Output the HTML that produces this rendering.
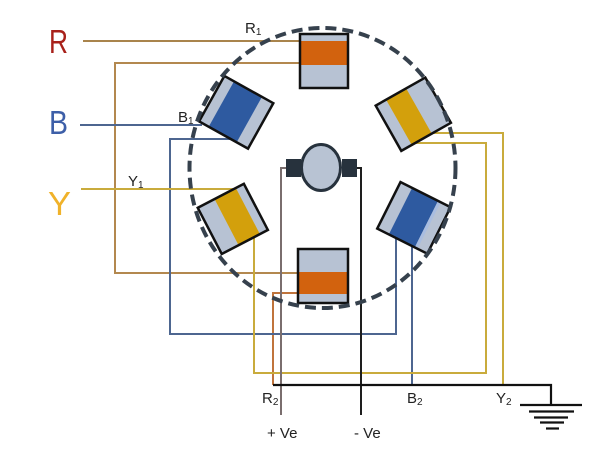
<!DOCTYPE html>
<html>
<head>
<meta charset="utf-8">
<style>
  html, body { margin: 0; padding: 0; background: #fff; }
  svg { display: block; }
  text { font-family: "Liberation Sans", sans-serif; }
</style>
</head>
<body>
<svg width="600" height="476" viewBox="0 0 600 476" xmlns="http://www.w3.org/2000/svg">
  <rect width="600" height="476" fill="#ffffff"/>

  <!-- Wires -->
  <g fill="none" stroke-width="2" stroke-linejoin="miter">
    <!-- R -->
    <path d="M83 41 H300" stroke="#a9844c"/>
    <path d="M300 63 H115 V273 H298" stroke="#b3884f"/>
    <path d="M298 293 H273 V385" stroke="#c0743c"/>
    <!-- B -->
    <path d="M80 125 H202" stroke="#4d6690"/>
    <path d="M233 139 H170 V334 H396 V236" stroke="#4d6690"/>
    <path d="M412 246 V385" stroke="#4d6690"/>
    <!-- Y -->
    <path d="M81 189 H236" stroke="#c9ab3c"/>
    <path d="M254 236 V373 H486 V143 H414" stroke="#c9ab3c"/>
    <path d="M430 133 H503 V385" stroke="#c9ab3c"/>
    <!-- Motor leads -->
    <path d="M287 168 H281 V415" stroke="#7a6e6e"/>
    <path d="M356 168 H361 V415" stroke="#1e1e1e"/>
    <!-- Bus + ground -->
    <path d="M273 385 H551 V405" stroke="#111" stroke-width="2.2"/>
    <path d="M520 405 H582" stroke="#111" stroke-width="2.2"/>
    <path d="M529 411.5 H574" stroke="#111" stroke-width="2.2"/>
    <path d="M534 417.5 H568" stroke="#111" stroke-width="2.2"/>
    <path d="M540 422.5 H564" stroke="#111" stroke-width="2.2"/>
    <path d="M546 428.5 H559" stroke="#111" stroke-width="2.2"/>
  </g>

  <!-- Coils -->
  <!-- Top (R1) -->
  <g>
    <rect x="300" y="34" width="48" height="54" fill="#b7c2d3"/>
    <rect x="300" y="41" width="48" height="24" fill="#d2620e"/>
    <rect x="300" y="34" width="48" height="54" fill="none" stroke="#111" stroke-width="2.5"/>
  </g>
  <!-- Bottom (R2) -->
  <g>
    <rect x="298" y="249" width="50" height="54" fill="#b7c2d3"/>
    <rect x="298" y="272" width="50" height="22" fill="#d2620e"/>
    <rect x="298" y="249" width="50" height="54" fill="none" stroke="#111" stroke-width="2.5"/>
  </g>
  <!-- B1 top-left -->
  <g transform="translate(236.2,112.3) rotate(29.1)">
    <rect x="-28" y="-26" width="56" height="52" fill="#b7c2d3"/>
    <rect x="-17" y="-26" width="32" height="52" fill="#2e5aa0"/>
    <rect x="-28" y="-26" width="56" height="52" fill="none" stroke="#111" stroke-width="2.5"/>
  </g>
  <!-- Y right-top -->
  <g transform="translate(413.3,114.2) rotate(-29.5)">
    <rect x="-28.5" y="-26" width="57" height="52" fill="#b7c2d3"/>
    <rect x="-16.5" y="-26" width="23" height="52" fill="#d3a00c"/>
    <rect x="-28.5" y="-26" width="57" height="52" fill="none" stroke="#111" stroke-width="2.5"/>
  </g>
  <!-- B right-bottom -->
  <g transform="translate(413.9,217.9) rotate(26.6)">
    <rect x="-28" y="-26" width="56" height="52" fill="#b7c2d3"/>
    <rect x="-15" y="-26" width="29" height="52" fill="#2e5aa0"/>
    <rect x="14" y="-26" width="3" height="52" fill="#a9bde0"/>
    <rect x="-28" y="-26" width="56" height="52" fill="none" stroke="#111" stroke-width="2.5"/>
  </g>
  <!-- Y left-bottom -->
  <g transform="translate(232.8,218.9) rotate(-27.5)">
    <rect x="-26" y="-26" width="52" height="52" fill="#b7c2d3"/>
    <rect x="-7" y="-26" width="24" height="52" fill="#d3a00c"/>
    <rect x="-26" y="-26" width="52" height="52" fill="none" stroke="#111" stroke-width="2.5"/>
  </g>

  <!-- Motor -->
  <rect x="286" y="159" width="15" height="18" fill="#27323d"/>
  <rect x="342" y="159" width="15" height="18" fill="#27323d"/>
  <ellipse cx="321" cy="167.5" rx="19.5" ry="23" fill="#b8c3d3" stroke="#27323d" stroke-width="3"/>

  <!-- Dashed stator ring -->
  <ellipse cx="322.5" cy="168" rx="133" ry="140" fill="none" stroke="#36414d" stroke-width="4" stroke-dasharray="11 6"/>

  <!-- Big phase letters -->
  <text x="49" y="53" font-size="33" fill="#a8201a" textLength="19" lengthAdjust="spacingAndGlyphs">R</text>
  <text x="49" y="134" font-size="33" fill="#3d5fa8" textLength="19" lengthAdjust="spacingAndGlyphs">B</text>
  <text x="48" y="215" font-size="33" fill="#f0b22a" textLength="23" lengthAdjust="spacingAndGlyphs">Y</text>

  <!-- Labels -->
  <g fill="#222">
    <text x="245" y="33" font-size="15">R<tspan font-size="10" dy="2">1</tspan></text>
    <text x="178" y="122" font-size="15">B<tspan font-size="10" dy="2">1</tspan></text>
    <text x="128" y="186" font-size="15">Y<tspan font-size="10" dy="2">1</tspan></text>
    <text x="262" y="403" font-size="15">R<tspan font-size="10" dy="2">2</tspan></text>
    <text x="407" y="403" font-size="15">B<tspan font-size="10" dy="2">2</tspan></text>
    <text x="496" y="403" font-size="15">Y<tspan font-size="10" dy="2">2</tspan></text>
    <text x="267" y="438" font-size="15">+ Ve</text>
    <text x="354" y="438" font-size="15">- Ve</text>
  </g>
</svg>
</body>
</html>
